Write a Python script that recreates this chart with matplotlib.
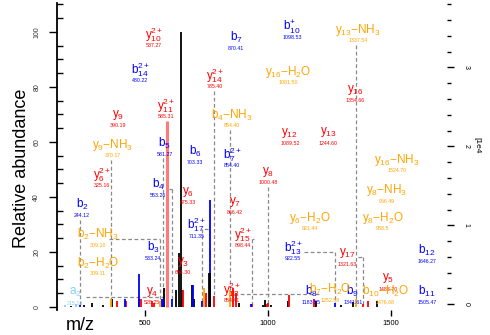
import matplotlib
matplotlib.use("Agg")
import matplotlib.pyplot as plt
from matplotlib.ticker import MultipleLocator, FixedLocator

plt.rcParams['font.family'] = ['Liberation Sans', 'DejaVu Sans']
plt.rcParams['mathtext.fontset'] = 'custom'
plt.rcParams['mathtext.rm'] = 'Liberation Sans'
plt.rcParams['mathtext.it'] = 'Liberation Sans'

# ---------------- data ----------------
peak_mz = [646, 638, 626, 651, 691, 699, 760, 882, 979, 988, 1012, 1081, 1195, 1297,
           1345, 1443, 285, 366, 476, 577, 200, 250, 330,
           655, 748, 780, 857, 870, 996, 1085, 1187, 1406, 386, 423, 484, 528, 537,
           1000, 935, 1386,
           589,
           695, 764, 930, 419, 569, 573, 732, 236, 610, 1272,
           740, 1358, 845, 362, 561,
           175, 220]
peak_int = [100, 19.6, 6, 6, 8, 3, 12.4, 1.5, 0.8, 2.5, 0.8, 2, 2, 0.8,
            1.8, 2, 1.5, 3, 3, 7, 0.5, 0.6, 0.8,
            6, 5, 4, 7, 5, 1, 4.4, 3, 2, 2, 2, 3, 2, 1.5,
            1.5, 1.2, 1,
            67.6,
            8, 39, 1, 3, 3, 3, 2, 0.8, 3, 1.5,
            7, 3, 6, 3, 2,
            0.8, 1]
peak_type = ['k'] * 23 + ['r'] * 17 + ['p'] + ['b'] * 10 + ['o'] * 5 + ['c'] * 2
blue_big = [(476, 12)]

ann_text = ['y$_{10}^{2+}$', 'y$_{9}$', 'y$_{11}^{2+}$', 'y$_{14}^{2+}$', 'y$_{12}$', 'y$_{13}$',
            'y$_{16}$', 'y$_{6}^{2+}$', 'y$_{6}$', 'y$_{8}$', 'y$_{7}$', 'y$_{15}^{2+}$', 'y$_{3}$',
            'y$_{4}$', 'y$_{12}^{2+}$', 'y$_{17}$', 'y$_{5}$',
            'b$_{10}^{+}$', 'b$_{7}$', 'b$_{14}^{2+}$', 'b$_{5}$', 'b$_{6}$', 'b$_{7}^{2+}$',
            'b$_{4}$', 'b$_{2}$', 'b$_{3}$', 'b$_{17}^{2+}$', 'b$_{13}^{2+}$', 'b$_{12}$', 'b$_{11}$',
            'b$_{8}$', 'b$_{9}$',
            'y$_{13}$\u2212NH$_3$', 'y$_{16}$\u2212H$_2$O', 'b$_{4}$\u2212NH$_3$', 'y$_{9}$\u2212NH$_3$',
            'y$_{16}$\u2212NH$_3$', 'y$_{8}$\u2212NH$_3$', 'y$_{8}$\u2212H$_2$O', 'y$_{6}$\u2212H$_2$O',
            'b$_{2}$\u2212NH$_3$', 'b$_{2}$\u2212H$_2$O', 'b$_{7}$\u2212H$_2$O', 'b$_{10}$\u2212H$_2$O',
            'a$_{2}$']
ann_mass = ['537.27', '390.19', '585.31', '785.40', '1089.52', '1244.60', '1354.66', '325.16',
            '675.33', '1000.48', '866.42', '898.44', '654.30', '528.25', '854.41', '1321.63',
            '1488.70',
            '1098.53', '870.41', '480.22', '581.27', '703.33', '854.40', '553.26', '244.12',
            '533.24', '711.35', '922.55', '1646.27', '1505.47', '1183.55', '1341.61',
            '1337.54', '1081.50', '854.40', '370.17', '1524.70', '966.49', '958.5', '921.44',
            '309.10', '309.11', '1252.58', '1476.68', '215.13']
ann_x = [537, 390, 585, 785, 1089, 1244, 1354, 325, 675, 1000, 866, 898, 654, 528, 854, 1321, 1488,
         1098, 870, 480, 581, 703, 854, 553, 244, 533, 711, 1102, 1646, 1646, 1175, 1345,
         1366, 1081, 854, 370, 1524, 1484, 1467, 1171, 309, 309, 1252, 1476,
         215]
ann_y = [98.9, 69.8, 73.1, 84.0, 63.3, 63.6, 78.9, 48.0, 41.8, 49.1, 38.2, 26.2, 16.4, 5.5, 6.2,
         19.6, 10.5,
         101.8, 97.8, 86.2, 59.6, 56.4, 55.3, 44.4, 37.1, 21.8, 29.8, 21.5, 20.7, 5.5, 5.8, 5.8,
         100.7, 85.5, 69.8, 58.9, 53.5, 42.5, 32.4, 32.4, 26.2, 16.0, 6.2, 5.5,
         5.1]
ann_type = ['r'] * 17 + ['b'] * 15 + ['o'] * 12 + ['c']
ann_peak = [None, None, None, 780, None, None, None, None, None, 1000, None, 935, None, None, None,
            1386, None,
            None, None, None, 573, None, None, 610, 236, None, 732, 1272, None, None, None, None,
            1358, None, 845, 362, None, None, None, None, 561, None, 857, None,
            577]

colors = {'k': '#000000', 'r': '#ff0000', 'p': '#ff7b7b', 'b': '#0000ff',
          'o': '#ffa500', 'c': '#87cefa'}

# ---------------- figure ----------------
fig = plt.figure(figsize=(4.9, 3.35), dpi=100)
ax = fig.add_axes([57 / 490, 25 / 335, 390 / 490, 307 / 335])
ax.set_xlim(142, 1728)
ax.set_ylim(-1.1, 110.5)

# connectors
def height_of(mz):
    best = None
    for m, h in zip(peak_mz, peak_int):
        if abs(m - mz) < 0.5:
            best = h if best is None else max(best, h)
    return 0 if best is None else best

for x, y, pk in zip(ann_x, ann_y, ann_peak):
    if pk is None:
        continue
    top = height_of(pk)
    kw = dict(color='#8a8a8a', lw=0.9, ls=(0, (3, 2)), zorder=1)
    if abs(x - pk) < 20:
        ax.plot([pk, pk], [y - 5.5, top], **kw)
    else:
        side = 1 if pk > x else -1
        hy = y - 1.5
        ax.plot([x + side * 45, pk], [hy, hy], **kw)
        ax.plot([pk, pk], [hy, top], **kw)

# peaks
for m, h, t in zip(peak_mz, peak_int, peak_type):
    lw = 2.2 if t == 'p' else 1.3
    ax.vlines(m, 0, h, colors=colors[t], lw=lw, zorder=2)
for m, h in blue_big:
    ax.vlines(m, 0, h, colors=colors['b'], lw=1.3, zorder=2)
# black base drawn over blue at the big blue peak
ax.vlines(764, 0, 12.4, colors='k', lw=1.3, zorder=3)

# labels
for txt, ms, x, y, t in zip(ann_text, ann_mass, ann_x, ann_y, ann_type):
    fs = 8.5
    ax.text(x, y, txt, color=colors[t], fontsize=fs, ha='center', va='center', zorder=4)
    ax.text(x, y - 4.0, ms, color=colors[t], fontsize=3.8, ha='center', va='center', zorder=4)

# axes styling
for s in ['top', 'right', 'bottom']:
    ax.spines[s].set_visible(False)
ax.spines['left'].set_linewidth(1.3)
ax.yaxis.set_major_locator(MultipleLocator(20))
ax.yaxis.set_minor_locator(MultipleLocator(5))
ax.tick_params(axis='y', which='major', direction='out', length=6, width=1, labelsize=5,
               labelrotation=90, pad=6, labelcolor='#333333')
ax.tick_params(axis='y', which='minor', direction='in', length=4.5, width=1)
ax.set_xticks([500, 1000, 1500])
ax.tick_params(axis='x', which='major', direction='out', length=4, width=1, labelsize=5.5,
               pad=3)
for lab in ax.get_yticklabels():
    lab.set_va('center')

# right axis (absolute intensity)
ax2 = ax.twinx()
ax2.set_ylim(-730, 38170)
for s in ['top', 'left', 'bottom', 'right']:
    ax2.spines[s].set_visible(False)
ax2.yaxis.set_major_locator(FixedLocator([0, 10000, 20000, 30000]))
ax2.yaxis.set_minor_locator(MultipleLocator(2000))
ax2.set_yticklabels(['0', '1', '2', '3'])
ax2.tick_params(axis='y', which='major', direction='out', length=5, width=1, labelsize=5,
                labelrotation=-90, pad=6)
ax2.tick_params(axis='y', which='minor', direction='out', length=3, width=1)
fig.text(477 / 490, 1 - 145 / 335, '[1e4', rotation=-90, fontsize=6, ha='center', va='center')

fig.text(22 / 490, 1 - 168 / 335, 'Relative abundance', rotation=90, fontsize=13,
         ha='center', va='center')
fig.text(80 / 490, 1 - 325 / 335, 'm/z', fontsize=13, ha='center', va='center')

fig.savefig('out.png', dpi=100)
